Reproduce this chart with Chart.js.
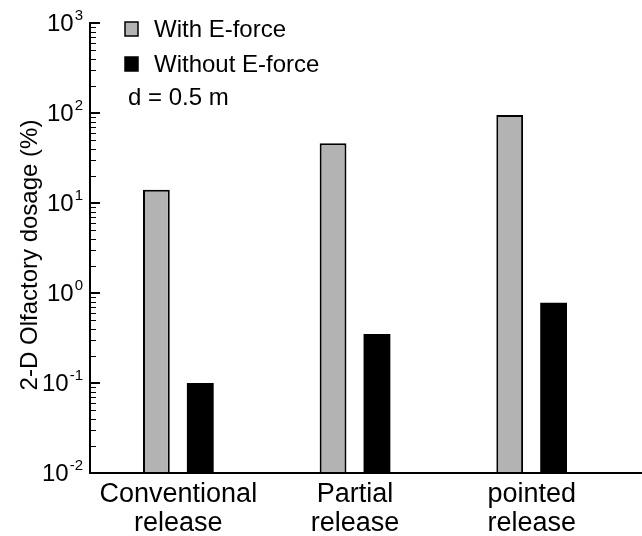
<!DOCTYPE html>
<html>
<head>
<meta charset="utf-8">
<script src="https://cdn.jsdelivr.net/npm/chart.js@4"></script>
<style>
  html, body { margin: 0; padding: 0; background: #fff; }
  #wrap { width: 642px; height: 536px; }
</style>
</head>
<body>
<div id="wrap"><canvas id="myChart"></canvas></div>
<script>
var categories = [['Conventional', 'release'], ['Partial', 'release'], ['pointed', 'release']];
var withEforce = [14, 46, 95];
var withoutEforce = [0.1, 0.35, 0.78];
var decades = [-2, -1, 0, 1, 2, 3];
var yTitle = '2-D Olfactory dosage (%)';
var noteText = 'd = 0.5 m';

var FONT = "'Liberation Sans', Arial, sans-serif";

// inward log ticks, 10^n labels, legend, y title and the long x axis line
var decor = {
  id: 'decor',
  afterDraw: function (chart) {
    var ctx = chart.ctx;
    var y = chart.scales.y;
    var area = chart.chartArea;
    ctx.save();
    ctx.strokeStyle = '#000';
    ctx.fillStyle = '#000';

    // x axis line to the right edge
    ctx.lineWidth = 2;
    ctx.beginPath();
    ctx.moveTo(area.left - 1, area.bottom);
    ctx.lineTo(chart.width, area.bottom);
    ctx.stroke();

    decades.forEach(function (e, i) {
      var py = y.getPixelForValue(Math.pow(10, e));
      ctx.lineWidth = 2;
      ctx.beginPath();
      ctx.moveTo(area.left, py);
      ctx.lineTo(area.left + 10, py);
      ctx.stroke();
      if (i < decades.length - 1) {
        ctx.lineWidth = 1;
        for (var m = 2; m <= 9; m++) {
          var my = Math.round(y.getPixelForValue(m * Math.pow(10, e))) + 0.5;
          ctx.beginPath();
          ctx.moveTo(area.left, my);
          ctx.lineTo(area.left + 6, my);
          ctx.stroke();
        }
      }
      // label 10^e
      ctx.textBaseline = 'alphabetic';
      ctx.textAlign = 'left';
      ctx.font = '15px ' + FONT;
      var exp = String(e);
      var ew = ctx.measureText(exp).width;
      ctx.font = '24px ' + FONT;
      var bw = ctx.measureText('10').width;
      var right = 83;
      ctx.fillText('10', right - ew - bw - 1, py + 8);
      ctx.font = '15px ' + FONT;
      ctx.fillText(exp, right - ew, py - 3);
    });

    // y title
    ctx.save();
    ctx.translate(37, 255);
    ctx.rotate(-Math.PI / 2);
    ctx.font = '24px ' + FONT;
    ctx.textAlign = 'center';
    ctx.textBaseline = 'alphabetic';
    ctx.fillText(yTitle, 0, 0);
    ctx.restore();

    // legend
    ctx.font = '24px ' + FONT;
    ctx.textAlign = 'left';
    ctx.textBaseline = 'alphabetic';
    chart.data.datasets.forEach(function (ds, i) {
      var cy = 29 + i * 35;
      ctx.fillStyle = ds.backgroundColor;
      ctx.fillRect(125, cy - 7, 13, 14);
      ctx.lineWidth = 1.5;
      ctx.strokeStyle = '#000';
      ctx.strokeRect(125, cy - 7, 13, 14);
      ctx.fillStyle = '#000';
      ctx.fillText(ds.label, 154, cy + 8);
    });
    ctx.fillText(noteText, 128, 105);

    ctx.restore();
  }
};

new Chart('myChart', {
  type: 'bar',
  data: {
    labels: categories,
    datasets: [
      {
        label: 'With E-force',
        data: withEforce,
        backgroundColor: '#b3b3b3',
        borderColor: '#000',
        borderWidth: 2,
        borderSkipped: 'start',
      },
      {
        label: 'Without E-force',
        data: withoutEforce,
        backgroundColor: '#000',
        borderColor: '#000',
        borderWidth: 0,
      },
    ],
  },
  options: {
    responsive: true,
    maintainAspectRatio: false,
    animation: false,
    devicePixelRatio: 1,
    layout: { padding: { top: 23, right: 22, left: 0, bottom: 0 } },
    datasets: { bar: { categoryPercentage: 0.497, barPercentage: 0.61 } },
    plugins: { legend: { display: false }, tooltip: { enabled: false } },
    scales: {
      x: {
        grid: { display: false },
        border: { display: false },
        ticks: {
          color: '#000',
          padding: 0,
          font: { family: FONT, size: 27, lineHeight: 1.04 },
          maxRotation: 0,
          autoSkip: false,
        },
        afterFit: function (s) { s.height = 63; },
      },
      y: {
        type: 'logarithmic',
        min: 0.01,
        max: 1000,
        grid: { display: false },
        border: { display: true, color: '#000', width: 2 },
        ticks: { display: false },
        afterFit: function (s) { s.width = 90; },
      },
    },
  },
  plugins: [decor],
});
</script>
</body>
</html>
